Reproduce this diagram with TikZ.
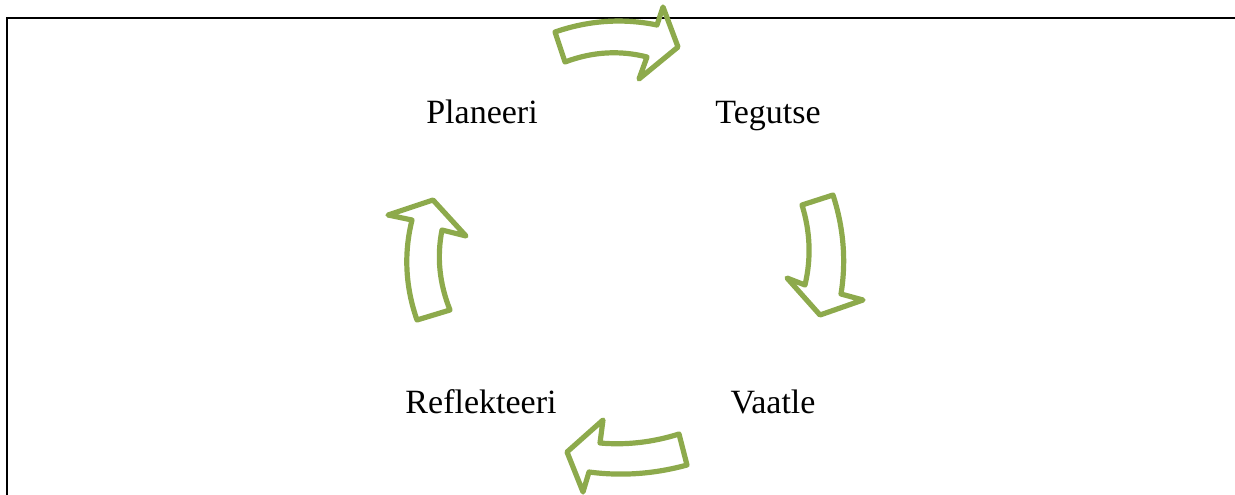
\documentclass[tikz,border=0pt]{standalone}
\usepackage{fontspec}
\setmainfont{Liberation Serif}
\definecolor{arrowgreen}{RGB}{141,170,76}
\begin{document}
\begin{tikzpicture}[x=1pt,y=-1pt,
  frame/.style={line width=2.5pt,black,line join=miter},
  cyclearrow/.style={line width=5.2pt,arrowgreen,line join=round,line cap=round},
  label/.style={font=\fontsize{34}{40}\selectfont,anchor=base,inner sep=0pt}]
\useasboundingbox (0,0) rectangle (1235,495);
% frame
\draw[frame] (1236,18) -- (7,18) -- (7,496);
% labels
\node[label] (planeeri) at (482,124) {Planeeri};
\node[label] (tegutse) at (768,124) {Tegutse};
\node[label] (vaatle) at (773,413) {Vaatle};
\node[label] (reflekteeri) at (481,413) {Reflekteeri};
% top arrow (Planeeri -> Tegutse)
\draw[cyclearrow] (555,32) -- (565,62) .. controls (592.3,51.7) and (619.7,50) .. (647,57)
  -- (639,79) -- (678,47) -- (663,7) -- (657,25) .. controls (623,18) and (589,20.3) .. cycle;
% right arrow (Tegutse -> Vaatle)
\draw[cyclearrow] (802,205) -- (833,195) .. controls (843.7,228) and (846.3,261) .. (841,294)
  -- (863,300) -- (820,315) -- (787,278) -- (805,285) .. controls (811.3,258.3) and (810.3,231.7) .. cycle;
% bottom arrow (Vaatle -> Reflekteeri)
\draw[cyclearrow] (679,434) -- (687,465) .. controls (654.3,474) and (621.7,476.3) .. (589,472)
  -- (583,492) -- (567,452) -- (603,420) -- (600,443) .. controls (626.3,445.3) and (652.7,442.3) .. cycle;
% left arrow (Reflekteeri -> Planeeri)
\draw[cyclearrow] (417,320) -- (450,310) .. controls (439.3,283.3) and (436.7,256.7) .. (442,230)
  -- (466,236) -- (433,200) -- (388,215) -- (412,220) .. controls (403.7,253.3) and (405.3,286.7) .. cycle;
\end{tikzpicture}
\end{document}
